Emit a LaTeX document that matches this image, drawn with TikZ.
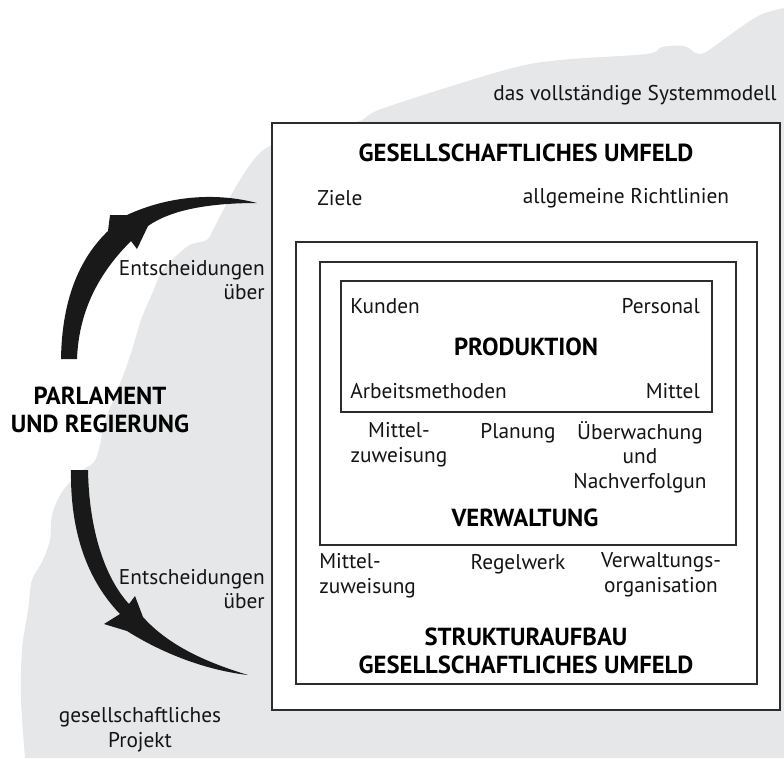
\documentclass[tikz,border=0pt]{standalone}
\usepackage{fontspec}
\setmainfont{PT Sans}
\usetikzlibrary{positioning}

\definecolor{blobgrey}{RGB}{230,231,232}
\definecolor{linegrey}{RGB}{45,45,45}

\begin{document}
\begin{tikzpicture}[
        x=0.75pt, y=-0.75pt,
        box/.style={draw=linegrey, line width=1pt, fill=white},
        txt/.style={font=\fontsize{16}{18.5}\selectfont, inner sep=0pt, align=center, text=black!92},
        headline/.style={font=\fontsize{18.5}{21.5}\selectfont\bfseries, inner sep=0pt, align=center, text=black},
        blade/.style={fill=black!90},
    ]
    \useasboundingbox (0,0) rectangle (784,758);

        % Draw the grey landscape behind everything
        \fill[blobgrey] plot[smooth, tension=0.55] coordinates {
            (25,758) (21,700) (22,650) (28,610) (32,580) (42,562) (50,540)
            (52,515) (62,492) (80,472) (94,462) (100,445) (104,425) (113,400)
            (123,376) (132,350) (141,320) (152,294) (163,270) (188,246)
            (207,240) (214,228) (238,183) (262,151) (290,140) (357,122)
            (384,108) (505,70) (560,60) (646,54) (662,47) (684,46) (696,53)
            (706,52) (734,32) (760,15) (784,8)}
            -- (784,758) -- cycle;

        % Draw the nested frames
        \foreach \xa/\ya/\xb/\yb in {272/123/780/710, 296/242/757/684,
                                     320/262/736/545, 341/281/712/412}
            \draw[box] (\xa,\ya) rectangle (\xb,\yb);

        % Draw the two curved arrows
        \fill[blade] (61,359) .. controls (62,295) and (82,256) .. (108,231)
            -- (110,215) -- (127,215)
            .. controls (168,196) and (215,192) .. (257,203)
            .. controls (212,203) and (172,209) .. (148,226)
            -- (137,249) -- (131,241)
            .. controls (104,268) and (79,305) .. (77,359) -- cycle;
        \fill[blade] (71,470) .. controls (70,540) and (92,585) .. (120,614)
            -- (104,624) -- (127,631)
            .. controls (162,653) and (205,670) .. (248,675)
            .. controls (205,662) and (168,645) .. (143,617)
            -- (135,596) -- (129,604)
            .. controls (105,578) and (89,530) .. (88,470) -- cycle;

        % Outer frame
        \node[txt] (sysmodell) at (635,95) {das vollständige Systemmodell};
        \node[headline] (umfeld) at (526,153) {GESELLSCHAFTLICHES UMFELD};
        \node[txt, anchor=west] (ziele) at (317,198) {Ziele};
        \node[txt] (richtlinien) at (626,198) {allgemeine Richtlinien};

        % Production frame
        \node[txt, anchor=west] (kunden) at (350,306) {Kunden};
        \node[txt, anchor=east] (personal) at (700,306) {Personal};
        \node[headline] (produktion) at (526,347) {PRODUKTION};
        \node[txt, anchor=west] (methoden) at (350,391) {Arbeitsmethoden};
        \node[txt, anchor=east] (mittel) at (700,391) {Mittel};

        % Administration frame
        \node[txt] (zuweisungA) at (399,445) {Mittel-\\zuweisung};
        \node[txt] (planung) at (518,433) {Planung};
        \node[txt] (ueberwachung) at (640,457) {Überwachung\\und\\Nachverfolgun};
        \node[headline] (verwaltung) at (525,518) {VERWALTUNG};

        % Structure frame
        \node[txt, anchor=west, align=left] (zuweisungB) at (319,576) {Mittel-\\zuweisung};
        \node[txt] (regelwerk) at (518,564) {Regelwerk};
        \node[txt] (organisation) at (661,575) {Verwaltungs-\\organisation};
        \node[headline] (struktur) at (526,651) {STRUKTURAUFBAU\\GESELLSCHAFTLICHES UMFELD};

        % Left side
        \node[headline] (parlament) at (100,410) {PARLAMENT\\UND REGIERUNG};
        \node[txt, anchor=east, align=right] (entschA) at (265,280) {Entscheidungen\\über};
        \node[txt, anchor=east, align=right] (entschB) at (265,589) {Entscheidungen\\über};
        \node[txt] (projekt) at (140,730) {gesellschaftliches\\Projekt};
    \end{tikzpicture}
\end{document}
